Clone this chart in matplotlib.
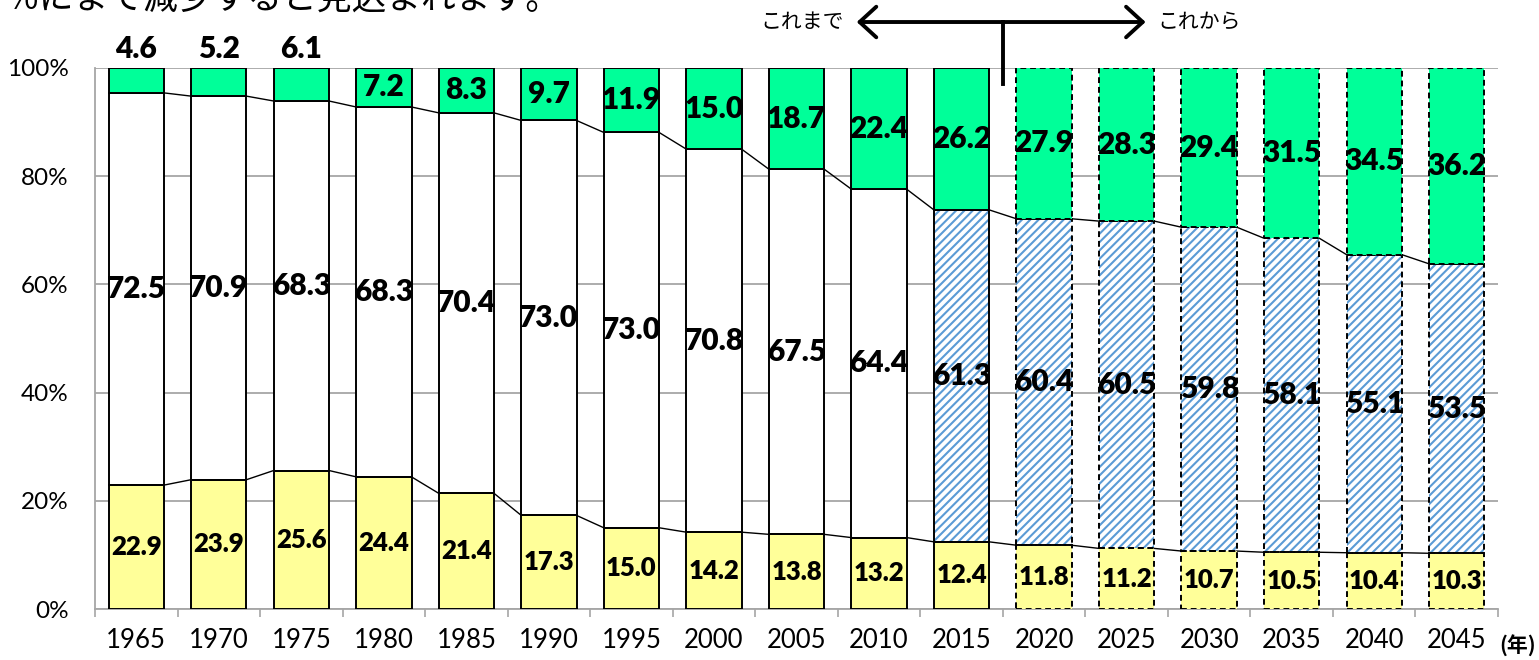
import numpy as np
import matplotlib.pyplot as plt

plt.rcParams['font.family'] = ['Lato', 'Noto Sans CJK JP', 'DejaVu Sans']
plt.rcParams['hatch.linewidth'] = 1.5

years = ['1965', '1970', '1975', '1980', '1985', '1990', '1995', '2000', '2005',
         '2010', '2015', '2020', '2025', '2030', '2035', '2040', '2045']
young = [22.9, 23.9, 25.6, 24.4, 21.4, 17.3, 15.0, 14.2, 13.8, 13.2, 12.4, 11.8, 11.2, 10.7, 10.5, 10.4, 10.3]
working = [72.5, 70.9, 68.3, 68.3, 70.4, 73.0, 73.0, 70.8, 67.5, 64.4, 61.3, 60.4, 60.5, 59.8, 58.1, 55.1, 53.5]
elderly = [4.6, 5.2, 6.1, 7.2, 8.3, 9.7, 11.9, 15.0, 18.7, 22.4, 26.2, 27.9, 28.3, 29.4, 31.5, 34.5, 36.2]
hatch_from = '2015'     # working-age segment drawn hatched from here
projected_from = '2020'  # dashed outlines from here
title_text = '％にまで減少すると見込まれます。'

young = np.array(young)
working = np.array(working)
elderly = np.array(elderly)
tot = young + working + elderly
p_young = young / tot * 100
p_work = working / tot * 100
p_old = elderly / tot * 100

x = np.arange(len(years))
w = 0.67
i_hatch = years.index(hatch_from)
i_proj = years.index(projected_from)
hist = x < i_proj
proj = x >= i_proj

c_young = '#FFFF99'
c_old = '#00FF99'
c_hatch = '#5B9BD5'
grid_c = '#A6A6A6'

fig = plt.figure(figsize=(15.39, 6.6), dpi=100)
ax = fig.add_axes([95/1539, 51/660, 1403/1539, 541/660])

segs = [(p_young, np.zeros(len(x)), young, 18.5),
        (p_work, p_young, working, 21.5),
        (p_old, p_young + p_work, elderly, 21.5)]

# hatched fill for the working-age segment
hm = x >= i_hatch
ax.bar(x[hm], p_work[hm], bottom=p_young[hm], width=w, color='white',
       edgecolor=c_hatch, hatch='////', linewidth=0, zorder=2.5)

for k, (h, b, vals, fs) in enumerate(segs):
    if k == 0:
        fc = c_young
    elif k == 1:
        fc = 'white'
    else:
        fc = c_old
    for mask, ls in [(hist, '-'), (proj, (0, (3, 2)))]:
        if k == 1:
            # white only where not hatched
            ax.bar(x[mask & ~hm], h[mask & ~hm], bottom=b[mask & ~hm], width=w,
                   color=fc, linewidth=0, zorder=2.4)
            ax.bar(x[mask], h[mask], bottom=b[mask], width=w, fill=False,
                   edgecolor='black', linewidth=1.4, linestyle=ls, zorder=3)
        else:
            ax.bar(x[mask], h[mask], bottom=b[mask], width=w, color=fc,
                   edgecolor='black', linewidth=1.4, linestyle=ls, zorder=3)
    for i in x:
        yy = b[i] + h[i] / 2
        if k == 2 and vals[i] < 7:
            yy = 103.6
        ax.text(i, yy, f'{vals[i]:.1f}', ha='center', va='center',
                fontsize=fs, fontweight='heavy', zorder=5, clip_on=False)

# series lines between bars
for lvl in [p_young, p_young + p_work]:
    for i in range(len(x) - 1):
        ax.plot([x[i] + w/2, x[i+1] - w/2], [lvl[i], lvl[i+1]], color='black',
                lw=1.0, zorder=2.6)

ax.set_xlim(-0.5, len(x) - 0.5)
ax.set_ylim(0, 100)
ax.set_yticks(np.arange(0, 101, 20))
ax.set_yticklabels([f'{v}%' for v in range(0, 101, 20)], fontsize=17.5)
ax.set_xticks(x)
ax.set_xticklabels(years, fontsize=18.5)
ax.set_xticks(np.arange(-0.5, len(x), 1), minor=True)
ax.tick_params(axis='x', which='major', length=0, pad=14)
ax.tick_params(axis='x', which='minor', length=6, color=grid_c, width=1.2)
ax.tick_params(axis='y', length=0, pad=19)
ax.yaxis.grid(True, color=grid_c, lw=1.3)
ax.set_axisbelow(True)
for s in ['top', 'right']:
    ax.spines[s].set_visible(False)
for s in ['left', 'bottom']:
    ax.spines[s].set_color(grid_c)
    ax.spines[s].set_linewidth(1.3)

# これまで / これから arrow
split = i_proj - 0.5
tr = ax.get_xaxis_transform()
ax.annotate('', xy=(split - 1.77, 1.085), xytext=(split + 1.73, 1.085),
            xycoords=tr, textcoords=tr,
            arrowprops=dict(arrowstyle='<->,head_length=0.6,head_width=0.55',
                            lw=2.8, color='black', shrinkA=0, shrinkB=0,
                            mutation_scale=20))
ax.plot([split, split], [1.085, 0.97], transform=tr, color='black', lw=2.8,
        clip_on=False, zorder=6)
ax.text(split - 1.93, 1.085, 'これまで', transform=tr, ha='right', va='center',
        fontsize=15, family=['Noto Sans CJK JP'])
ax.text(split + 1.87, 1.085, 'これから', transform=tr, ha='left', va='center',
        fontsize=15, family=['Noto Sans CJK JP'])

fig.text(1 - 3/1539, 3/660, '(年)', ha='right', va='bottom', fontsize=15,
         fontweight='bold', family=['Noto Sans CJK JP'])
fig.text(4/1539, 1 - 18/660, title_text, ha='left', va='bottom', fontsize=25,
         family=['Noto Sans CJK JP'])

fig.savefig('out.png', dpi=100)
